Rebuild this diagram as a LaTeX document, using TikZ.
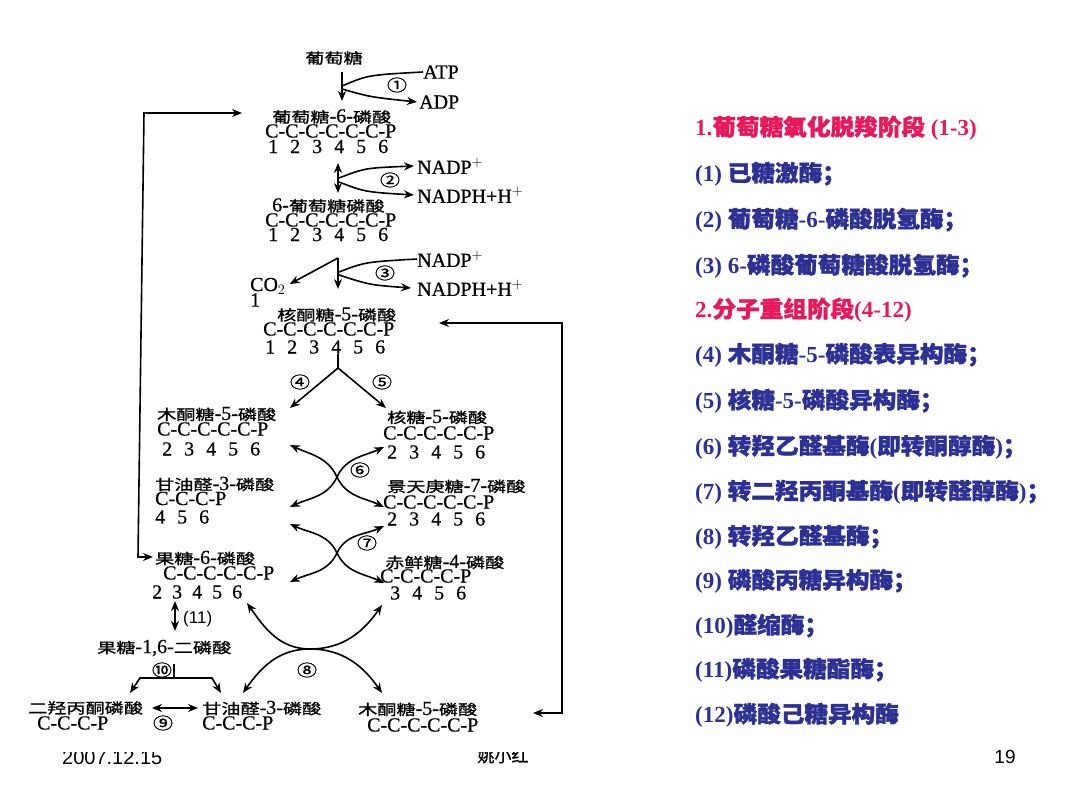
\documentclass[tikz,border=0pt]{standalone}
\usepackage{fontspec}
\setmainfont{Liberation Serif}
\newfontfamily\diagfam[FakeBold=0.6]{Liberation Serif}
\newfontfamily\cjkfam[FakeStretch=1.32,FakeBold=1.2]{Noto Sans CJK SC}
\newfontfamily\cjkplain[FakeBold=0.6]{Noto Sans CJK SC}
\newfontfamily\cjkcirc[FakeStretch=1.25,FakeBold=1.2]{Noto Sans CJK SC}
\newfontfamily\cjkbold[FakeBold=1.6,FakeStretch=1.05]{Noto Sans CJK SC}
\newfontfamily\arialfam{Liberation Sans}
\usetikzlibrary{arrows.meta}
\definecolor{pinkc}{RGB}{232,24,92}
\definecolor{bluec}{RGB}{44,48,148}
\newcommand\zh[1]{{\fontsize{14.5}{15}\cjkfam #1}}
\newcommand\cn[1]{{\fontsize{16}{16}\cjkcirc #1}}
\newcommand\zb[1]{{\fontsize{22.5}{23}\cjkbold #1}}
\newcommand\gp{\hspace{12pt}}
\newcommand\gq{\hspace{10pt}}
\tikzset{
  lbl/.style={inner sep=0pt, font=\fontsize{20}{20}\diagfam, anchor=west},
  cl/.style={inner sep=0pt},
  ln/.style={line width=1.6pt},
  arr/.style={ln, -{Stealth[length=10pt,width=8pt]}},
  dbl/.style={ln, {Stealth[length=10pt,width=8pt]}-{Stealth[length=10pt,width=8pt]}},
  rt/.style={anchor=west, inner sep=0pt, font=\fontsize{23}{23}\selectfont\bfseries, text=bluec},
  pk/.style={rt, text=pinkc}
}
\begin{document}
\begin{tikzpicture}[x=1pt,y=1pt]
\useasboundingbox (0,0) rectangle (1080,-810);
\fill[white] (0,0) rectangle (1080,-810);

% ---------- footer (partly hidden under the figure) ----------
\node[anchor=base west, inner sep=0pt, font=\fontsize{20}{20}\arialfam] (date) at (62,-764) {2007.12.15};
\node[anchor=base, inner sep=0pt] (author) at (503,-762) {{\fontsize{17}{17}\cjkplain 姚小红}};
\fill[white] (40,-725) rectangle (590,-752);
\node[inner sep=0pt, font=\fontsize{19}{19}\arialfam] (page) at (1005,-757) {19};

% ---------- step 1 ----------
\node[cl] (glc) at (334,-58) {\zh{葡萄糖}};
\node[lbl] (atp) at (423,-72) {ATP};
\node[lbl] (adp) at (419,-102) {ADP};
\node[cl] (c1) at (397,-85) {\cn{①}};
\coordinate (j1a) at (342,-72);
\coordinate (j1b) at (342,-101);
\draw[arr] (j1a) -- (j1b);
\draw[ln] (atp.west) .. controls (368,-75) .. (342,-86);
\draw[arr] (342,-89) .. controls (370,-97) .. ([xshift=-2pt]adp.west);

\node[lbl] (g6p) at (272,-116.5) {\zh{葡萄糖}-6-\zh{磷酸}};
\node[lbl] (g6pc) at (265,-131) {C-C-C-C-C-C-P};
\node[lbl] (g6pn) at (268,-146.5) {1\gp2\gp3\gp4\gp5\gp6};

% ---------- step 2 ----------
\node[lbl] (nadp1) at (417,-166) {NADP$^+$};
\node[lbl] (nadph1) at (417,-195) {NADPH+H$^+$};
\node[cl] (c2) at (390,-180) {\cn{②}};
\draw[dbl] (338,-163) -- (338,-193);
\draw[arr] (339,-178) .. controls (365,-168) .. ([xshift=-3pt]nadp1.west);
\draw[arr] (339,-182) .. controls (365,-192) .. ([xshift=-3pt]nadph1.west);

\node[lbl] (p6g) at (272,-205.5) {6-\zh{葡萄糖磷酸}};
\node[lbl] (p6gc) at (265,-220) {C-C-C-C-C-C-P};
\node[lbl] (p6gn) at (268,-234.5) {1\gp2\gp3\gp4\gp5\gp6};

% ---------- step 3 ----------
\node[lbl] (nadp2) at (417,-259) {NADP$^+$};
\node[lbl] (nadph2) at (417,-288) {NADPH+H$^+$};
\node[cl] (c3) at (385,-273) {\cn{③}};
\node[lbl] (co2) at (250,-286) {CO$_2$};
\node[lbl] (co2n) at (250,-300) {1};
\coordinate (j3) at (338,-258);
\draw[arr] (j3) -- (338,-289);
\draw[arr] (j3) -- ([xshift=4pt,yshift=2pt]co2.east);
\draw[ln] (nadp2.west) .. controls (365,-262) .. (339,-272);
\draw[arr] (339,-275) .. controls (370,-285) .. ([xshift=-6pt]nadph2.west);

\node[lbl] (ru5p) at (277,-314.5) {\zh{核酮糖}-5-\zh{磷酸}};
\node[lbl] (ru5pc) at (263,-329) {C-C-C-C-C-C-P};
\node[lbl] (ru5pn) at (265,-347) {1\gp2\gp3\gp4\gp5\gp6};

% ---------- steps 4,5 ----------
\coordinate (j4) at (338,-368);
\draw[ln] (338,-354) -- (j4);
\draw[arr] (j4) -- (290,-408);
\draw[arr] (j4) -- (386,-408);
\node[cl] (c4) at (300,-382) {\cn{④}};
\node[cl] (c5) at (382,-382) {\cn{⑤}};

\node[lbl] (xu5p) at (157,-414) {\zh{木酮糖}-5-\zh{磷酸}};
\node[lbl] (xu5pc) at (157,-429) {C-C-C-C-C-P};
\node[lbl] (xu5pn) at (162,-449) {2\gp3\gp4\gp5\gp6};
\node[lbl] (r5p) at (387,-417) {\zh{核糖}-5-\zh{磷酸}};
\node[lbl] (r5pc) at (383,-433) {C-C-C-C-C-P};
\node[lbl] (r5pn) at (387,-452) {2\gp3\gp4\gp5\gp6};

% ---------- step 6 ----------
\coordinate (x6) at (337,-477);
\draw[dbl] (290,-445) to[out=-25,in=115] (x6) to[out=-65,in=155] (384,-507);
\draw[dbl] (384,-447) to[out=-155,in=65] (x6) to[out=-115,in=25] (290,-507);
\node[cl] (c6) at (360,-470) {\cn{⑥}};

\node[lbl] (gap1) at (155,-484) {\zh{甘油醛}-3-\zh{磷酸}};
\node[lbl] (gap1c) at (155,-498.5) {C-C-C-P};
\node[lbl] (gap1n) at (155,-517) {4\gp5\gp6};
\node[lbl] (s7p) at (387,-486) {\zh{景天庚糖}-7-\zh{磷酸}};
\node[lbl] (s7pc) at (383,-502) {C-C-C-C-C-P};
\node[lbl] (s7pn) at (387,-519) {2\gp3\gp4\gp5\gp6};

% ---------- step 7 ----------
\coordinate (x7) at (337,-553);
\draw[dbl] (290,-524) to[out=-25,in=115] (x7) to[out=-65,in=155] (384,-583);
\draw[dbl] (384,-526) to[out=-155,in=65] (x7) to[out=-115,in=25] (290,-582);
\node[cl] (c7) at (367,-543) {\cn{⑦}};

\node[lbl] (f6p) at (155,-558) {\zh{果糖}-6-\zh{磷酸}};
\node[lbl] (f6pc) at (163,-573) {C-C-C-C-C-P};
\node[lbl] (f6pn) at (152,-592) {2\gq3\gq4\gq5\gq6};
\node[lbl] (e4p) at (385,-562) {\zh{赤鲜糖}-4-\zh{磷酸}};
\node[lbl] (e4pc) at (380,-576) {C-C-C-C-P};
\node[lbl] (e4pn) at (390,-593) {3\gp4\gp5\gp6};

% ---------- step 11, 10, 9 ----------
\draw[dbl] (175,-601) -- (175,-631);
\node[lbl, font=\fontsize{17}{17}\arialfam] (c11) at (183,-619) {(11)};
\node[lbl] (fbp) at (97,-648) {\zh{果糖}-1,6-\zh{二磷酸}};
\node[cl] (c10) at (162,-670) {\cn{⑩}};
\draw[ln] (174,-664) -- (174,-678);
\draw[dbl] (130,-693) -- (140,-678) -- (212,-678) -- (221,-693);

\node[lbl] (dhap) at (28,-708) {\zh{二羟丙酮磷酸}};
\node[lbl] (dhapc) at (37,-723) {C-C-C-P};
\draw[dbl] (152,-708) -- (198,-708);
\node[cl] (c9) at (163,-723) {\cn{⑨}};
\node[lbl] (gap2) at (202,-708) {\zh{甘油醛}-3-\zh{磷酸}};
\node[lbl] (gap2c) at (202,-723) {C-C-C-P};
\node[lbl] (xu5p2) at (358,-709) {\zh{木酮糖}-5-\zh{磷酸}};
\node[lbl] (xu5p2c) at (367,-725) {C-C-C-C-C-P};

% ---------- step 8 ----------
\coordinate (x8) at (310,-649);
\draw[dbl] (247,-603) to[out=-55,in=180] (x8) to[out=0,in=-125] (382,-605);
\draw[dbl] (243,-693) to[out=55,in=180] (x8) to[out=0,in=125] (382,-693);
\node[cl] (c8) at (307,-670) {\cn{⑧}};

% ---------- feedback loops ----------
\coordinate (lt) at (144,-113);
\coordinate (lb) at (138,-557);
\draw[dbl] (242,-113) -- (lt) -- (lb) -- (153,-557);
\coordinate (rt1) at (562,-323);
\coordinate (rb1) at (562,-713);
\draw[dbl] (439,-323) -- (rt1) -- (rb1) -- (533,-713);

% ---------- right-hand text ----------
\node[pk] (h1) at (695,-128) {1.\zb{葡萄糖氧化脱羧阶段} (1-3)};
\node[rt] (e1) at (695,-174) {(1) \zb{已糖激酶；}};
\node[rt] (e2) at (695,-220) {(2) \zb{葡萄糖}-6-\zb{磷酸脱氢酶；}};
\node[rt] (e3) at (695,-266) {(3) 6-\zb{磷酸葡萄糖酸脱氢酶；}};
\node[pk] (h2) at (695,-310) {2.\zb{分子重组阶段}(4-12)};
\node[rt] (e4) at (695,-355) {(4) \zb{木酮糖}-5-\zb{磷酸表异构酶；}};
\node[rt] (e5) at (695,-401) {(5) \zb{核糖}-5-\zb{磷酸异构酶；}};
\node[rt] (e6) at (695,-447) {(6) \zb{转羟乙醛基酶}(\zb{即转酮醇酶})\zb{；}};
\node[rt] (e7) at (695,-492) {(7) \zb{转二羟丙酮基酶}(\zb{即转醛醇酶})\zb{；}};
\node[rt] (e8) at (695,-537) {(8) \zb{转羟乙醛基酶；}};
\node[rt] (e9) at (695,-581) {(9) \zb{磷酸丙糖异构酶；}};
\node[rt] (e10) at (695,-626) {(10)\zb{醛缩酶；}};
\node[rt] (e11) at (695,-670) {(11)\zb{磷酸果糖酯酶；}};
\node[rt] (e12) at (695,-715) {(12)\zb{磷酸己糖异构酶}};
\end{tikzpicture}
\end{document}
